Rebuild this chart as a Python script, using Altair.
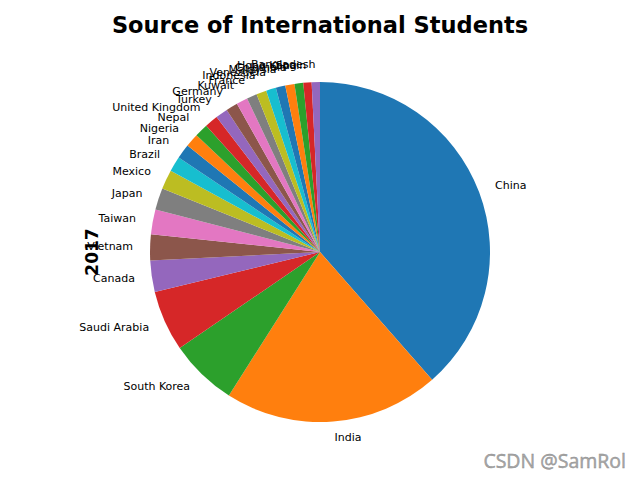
import altair as alt
import pandas as pd
import math

countries = ["China", "India", "South Korea", "Saudi Arabia", "Canada", "Vietnam",
             "Taiwan", "Japan", "Mexico", "Brazil", "Iran", "Nigeria", "Nepal",
             "United Kingdom", "Turkey", "Germany", "Kuwait", "France", "Indonesia",
             "Venezuela", "Malaysia", "Colombia", "Hong Kong", "Spain", "Bangladesh"]
students = [350755, 186267, 58663, 52611, 27065, 22438, 21516, 18780, 16835, 13089,
            12643, 11710, 11607, 11489, 10586, 10169, 9772, 8814, 8776, 8540, 8247,
            7982, 7547, 7164, 7143]

tab10 = ["#1f77b4", "#ff7f0e", "#2ca02c", "#d62728", "#9467bd",
         "#8c564b", "#e377c2", "#7f7f7f", "#bcbd22", "#17becf"]
palette = [tab10[i % 10] for i in range(len(countries))]

df = pd.DataFrame({"country": countries, "students": students,
                   "idx": list(range(len(countries)))})

W, H = 624, 464
CX, CY = 312, 244
R = 170

pie = alt.Chart(df).mark_arc(radius=R, stroke=None).encode(
    theta=alt.Theta("students:Q", stack=True),
    order=alt.Order("idx:Q"),
    color=alt.Color("country:N", scale=alt.Scale(domain=countries, range=palette), legend=None),
    x=alt.value(CX), y=alt.value(CY),
)

base_lbl = alt.Chart(df).transform_joinaggregate(
    total="sum(students)"
).transform_window(
    cum="sum(students)", sort=[alt.SortField("idx")], frame=[None, 0]
).transform_calculate(
    mid="(datum.cum - datum.students/2) / datum.total * 2 * PI"
)

def side_layer(expr, align):
    return base_lbl.transform_filter(expr).mark_text(
        radius=R * 1.1, align=align, baseline="middle", fontSize=11,
        font="DejaVu Sans", color="black"
    ).encode(
        theta=alt.Theta("mid:Q", scale=None),
        text="country:N",
        x=alt.value(CX), y=alt.value(CY),
    )

left_lbl = side_layer("sin(datum.mid) < 0", "right")
right_lbl = side_layer("sin(datum.mid) >= 0", "left")

title = alt.Chart(pd.DataFrame({"t": ["Source of International Students"]})).mark_text(
    fontSize=22.5, fontWeight="bold", font="DejaVu Sans", align="center", baseline="middle"
).encode(text="t:N", x=alt.value(CX), y=alt.value(18))

ylab = alt.Chart(pd.DataFrame({"t": ["2017"]})).mark_text(
    fontSize=17, fontWeight="bold", font="DejaVu Sans", angle=270,
    align="center", baseline="middle"
).encode(text="t:N", x=alt.value(85), y=alt.value(CY))

wm = alt.Chart(pd.DataFrame({"t": ["CSDN @SamRol"]})).mark_text(
    fontSize=19.5, font="Open Sans", align="right", baseline="alphabetic",
    color="#a8a8a8", stroke="#8a8a8a", strokeWidth=0.4
).encode(text="t:N", x=alt.value(618), y=alt.value(460))

chart = alt.layer(pie, left_lbl, right_lbl, title, ylab, wm).properties(
    width=W, height=H, autosize=alt.AutoSizeParams(type="none"), padding=0
).configure_view(stroke=None)

chart.save("out.html", embed_options={"renderer": "svg", "actions": False})
